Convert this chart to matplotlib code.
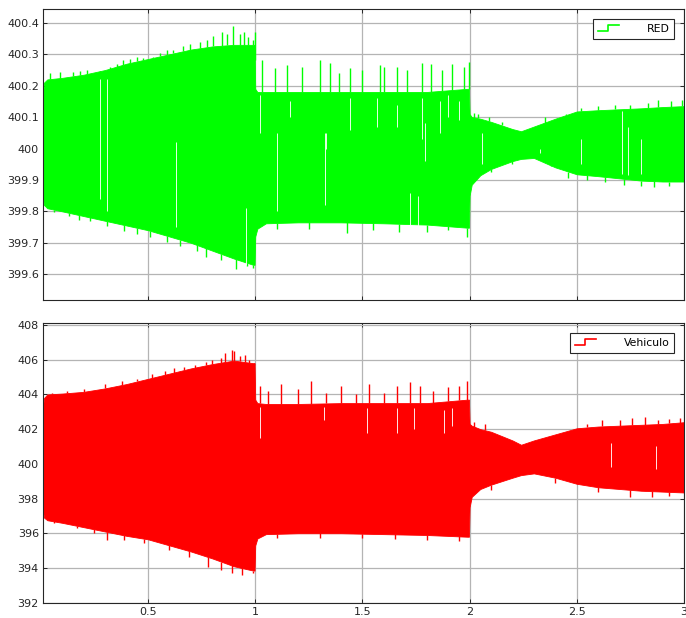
import matplotlib
matplotlib.use("Agg")
import matplotlib.pyplot as plt
import numpy as np
from matplotlib.lines import Line2D
from matplotlib.legend_handler import HandlerBase

# ---------------- data ----------------
t_env = [0.01, 0.015, 0.03, 0.1, 0.2, 0.3, 0.4, 0.5, 0.6, 0.7, 0.8, 0.9, 0.99, 0.997,
         1.0, 1.01, 1.05, 1.2, 1.4, 1.6, 1.8, 1.99, 1.997, 2.0, 2.01, 2.05, 2.1, 2.2,
         2.24, 2.3, 2.4, 2.5, 2.6, 2.7, 2.8, 2.9, 3.0]

red_up = [400.17, 400.21, 400.22, 400.225, 400.235, 400.25, 400.27, 400.285, 400.30,
          400.315, 400.325, 400.33, 400.33, 400.33, 400.19, 400.18, 400.18, 400.18,
          400.18, 400.18, 400.18, 400.19, 400.19, 400.11, 400.10, 400.095, 400.085,
          400.062, 400.055, 400.07, 400.095, 400.118, 400.122, 400.125, 400.128, 400.132, 400.135]
red_lo = [399.84, 399.82, 399.81, 399.80, 399.785, 399.77, 399.755, 399.74, 399.72,
          399.70, 399.675, 399.65, 399.63, 399.63, 399.72, 399.745, 399.762, 399.765,
          399.765, 399.762, 399.758, 399.748, 399.748, 399.85, 399.885, 399.915, 399.935,
          399.96, 399.967, 399.97, 399.94, 399.918, 399.912, 399.905, 399.898, 399.895, 399.895]

veh_up = [403.3, 403.8, 404.0, 404.05, 404.15, 404.35, 404.6, 404.9, 405.2, 405.5, 405.75,
          405.95, 405.8, 405.8, 403.7, 403.5, 403.45, 403.45, 403.5, 403.5, 403.5,
          403.7, 403.7, 402.3, 402.2, 402.0, 401.85, 401.35, 401.1, 401.35, 401.7, 402.05,
          402.15, 402.2, 402.25, 402.3, 402.4]
veh_lo = [397.3, 396.9, 396.75, 396.6, 396.35, 396.1, 395.85, 395.65, 395.3, 394.95, 394.55,
          394.1, 393.85, 393.85, 395.3, 395.7, 395.95, 396.0, 396.0, 395.95, 395.9, 395.8,
          395.8, 397.5, 398.1, 398.55, 398.8, 399.2, 399.35, 399.45, 399.2, 398.85,
          398.65, 398.55, 398.45, 398.4, 398.35]

# upward spikes above the dense band: (time, peak)
red_spk_t = [0.043, 0.09, 0.152, 0.183, 0.214, 0.276, 0.323, 0.354, 0.385, 0.416, 0.447,
             0.478, 0.525, 0.556, 0.587, 0.618, 0.664, 0.695, 0.742, 0.773, 0.804, 0.843,
             0.866, 0.897, 0.928, 0.947, 0.967, 0.99, 0.998,
             1.03, 1.09, 1.147, 1.217, 1.302, 1.35, 1.39, 1.44, 1.5, 1.58, 1.60, 1.66,
             1.71, 1.78, 1.82, 1.87, 1.92, 1.975, 1.995,
             2.02, 2.04, 2.09, 2.15, 2.35, 2.45, 2.52, 2.6, 2.68, 2.75, 2.83, 2.88, 2.94, 2.99]
red_spk_v = [400.241, 400.244, 400.244, 400.246, 400.25, 400.244, 400.26, 400.268, 400.281,
             400.284, 400.292, 400.287, 400.292, 400.303, 400.313, 400.315, 400.326, 400.334,
             400.34, 400.345, 400.358, 400.371, 400.366, 400.39, 400.364, 400.371, 400.355,
             400.345, 400.37,
             400.281, 400.255, 400.266, 400.258, 400.281, 400.271, 400.24, 400.255, 400.25,
             400.266, 400.26, 400.26, 400.25, 400.271, 400.27, 400.25, 400.27, 400.26, 400.275,
             400.112, 400.11, 400.1, 400.085, 400.1, 400.11, 400.13, 400.135, 400.14, 400.14,
             400.145, 400.155, 400.15, 400.155]
# downward teeth below the dense band
red_dn_t = [0.063, 0.13, 0.18, 0.23, 0.31, 0.39, 0.45, 0.51, 0.59, 0.65, 0.73, 0.77, 0.84,
            0.91, 0.96, 0.99, 1.1, 1.25, 1.426, 1.55, 1.67, 1.8, 1.9, 1.99,
            2.1, 2.2, 2.38, 2.46, 2.55, 2.63, 2.72, 2.8, 2.86, 2.93]
red_dn_v = [399.799, 399.785, 399.772, 399.77, 399.755, 399.738, 399.728, 399.72, 399.704,
            399.69, 399.675, 399.655, 399.645, 399.618, 399.625, 399.62, 399.745, 399.745,
            399.73, 399.74, 399.735, 399.735, 399.74, 399.72,
            399.925, 399.95, 399.945, 399.905, 399.9, 399.895, 399.885, 399.88, 399.878, 399.882]

veh_spk_t = [0.05, 0.12, 0.2, 0.3, 0.38, 0.45, 0.52, 0.58, 0.62, 0.67, 0.72, 0.77, 0.8,
             0.84, 0.86, 0.89, 0.9, 0.93, 0.95, 0.97, 0.995,
             1.02, 1.06, 1.12, 1.2, 1.26, 1.33, 1.4, 1.47, 1.53, 1.6, 1.66, 1.72,
             1.77, 1.83, 1.9, 1.95, 1.99, 2.02, 2.07, 2.55, 2.62, 2.7, 2.76, 2.82, 2.88, 2.93, 2.98]
veh_spk_v = [404.1, 404.2, 404.3, 404.6, 404.75, 404.9, 405.2, 405.35, 405.5, 405.6, 405.7,
             405.85, 406.0, 406.1, 406.4, 406.55, 406.5, 406.2, 406.3, 406.0, 405.7,
             404.5, 404.2, 404.6, 404.3, 404.8, 404.1, 404.5, 404.0, 404.6, 404.1,
             404.5, 404.7, 404.5, 404.2, 404.4, 404.5, 404.8, 402.4, 402.3, 402.3, 402.5,
             402.5, 402.62, 402.7, 402.55, 402.6, 402.62]
veh_dn_t = [0.06, 0.167, 0.25, 0.31, 0.39, 0.48, 0.6, 0.69, 0.78, 0.84, 0.89, 0.94, 0.99,
            1.1, 1.3, 1.5, 1.65, 1.8, 1.95, 2.1, 2.4, 2.6, 2.75, 2.85, 2.93]
veh_dn_v = [396.6, 396.28, 396.0, 395.6, 395.6, 395.42, 395.03, 394.65, 394.07, 393.9,
            393.69, 393.59, 393.7, 395.75, 395.7, 395.75, 395.65, 395.6, 395.55, 398.5,
            398.9, 398.4, 398.1, 398.1, 398.15]

# white gaps inside the dense band: (time, bottom, top)
red_gap_t = [0.276, 0.31, 0.63, 0.955, 1.02, 1.1, 1.16, 1.325, 1.33, 1.44, 1.57, 1.66,
             1.72, 1.76, 1.78, 1.79, 1.86, 1.9, 1.95, 2.06, 2.33, 2.52, 2.71, 2.74, 2.8]
red_gap_b = [399.84, 399.80, 399.75, 399.63, 400.05, 399.80, 400.1, 399.82, 400.0, 400.06,
             400.07, 400.07, 399.71, 399.72, 400.03, 399.96, 400.05, 400.1, 400.09,
             399.95, 399.985, 399.95, 399.92, 399.915, 399.92]
red_gap_a = [400.22, 400.22, 400.02, 399.81, 400.17, 400.05, 400.15, 400.05, 400.05, 400.16,
             400.16, 400.14, 399.86, 399.85, 400.16, 400.08, 400.15, 400.17, 400.15,
             400.05, 400.0, 400.03, 400.12, 400.07, 400.03]
veh_gap_t = [1.02, 1.32, 1.52, 1.66, 1.74, 1.88, 1.92, 2.66, 2.87]
veh_gap_b = [401.5, 402.5, 401.8, 401.8, 402.0, 401.8, 402.2, 399.8, 399.7]
veh_gap_a = [403.3, 403.3, 403.2, 403.2, 403.2, 403.1, 403.2, 401.2, 401.0]

x_ticks = [0.5, 1, 1.5, 2, 2.5, 3]
x_labels = ["0.5", "1", "1.5", "2", "2.5", "3"]
top_yticks = [399.6, 399.7, 399.8, 399.9, 400.0, 400.1, 400.2, 400.3, 400.4]
top_ylabels = ["399.6", "399.7", "399.8", "399.9", "400", "400.1", "400.2", "400.3", "400.4"]
bot_yticks = [392, 394, 396, 398, 400, 402, 404, 406, 408]
bot_ylabels = [str(v) for v in bot_yticks]

GREEN = "#00ff00"
RED = "#ff0000"


class StepHandler(HandlerBase):
    def create_artists(self, legend, orig_handle, xdescent, ydescent, width, height,
                       fontsize, trans):
        x0 = -xdescent
        y0 = -ydescent + height * 0.1
        y1 = -ydescent + height * 0.9
        xs = [x0, x0 + width * 0.45, x0 + width * 0.45, x0 + width]
        ys = [y0, y0, y1, y1]
        ln = Line2D(xs, ys, color=orig_handle.get_color(), lw=1.2)
        ln.set_transform(trans)
        return [ln]


fig = plt.figure(figsize=(6.86, 6.18), dpi=100)
ax1 = fig.add_axes([0.0627, 0.5146, 0.9343, 0.4708])
ax2 = fig.add_axes([0.0627, 0.0248, 0.9343, 0.4521])


def style(ax, yticks, ylabels, ylim):
    ax.set_xlim(0.01, 3.0)
    ax.set_ylim(*ylim)
    ax.set_xticks(x_ticks)
    ax.set_yticks(yticks)
    ax.set_yticklabels(ylabels)
    ax.grid(True, color="#b4b4b4", lw=0.9)
    ax.set_axisbelow(True)
    ax.tick_params(direction="in", top=True, right=True, length=3, width=0.7,
                   labelsize=8, colors="#262626", pad=3)
    for s in ax.spines.values():
        s.set_color("#262626")
        s.set_linewidth(0.8)


def draw(ax, up, lo, spk_t, spk_v, dn_t, dn_v, gap_t, gap_b, gap_a, color, label):
    ax.fill_between(t_env, lo, up, color=color, lw=0.6, edgecolor=color, zorder=2)
    base_up = np.interp(spk_t, t_env, up)
    ax.vlines(spk_t, base_up, spk_v, color=color, lw=1.0, zorder=2)
    base_lo = np.interp(dn_t, t_env, lo)
    ax.vlines(dn_t, dn_v, base_lo, color=color, lw=1.0, zorder=2)
    ax.vlines(gap_t, gap_b, gap_a, color="white", lw=0.7, alpha=0.9, zorder=3)
    h = Line2D([], [], color=color)
    ax.legend([h], [label], handler_map={Line2D: StepHandler()}, loc="upper right",
              bbox_to_anchor=(0.985, 0.965), fontsize=7.8, frameon=True, fancybox=False,
              edgecolor="#262626", framealpha=1, handlelength=2.0, handletextpad=2.5,
              borderpad=0.45, borderaxespad=0.0)
    ax.get_legend().get_frame().set_linewidth(0.8)


draw(ax1, red_up, red_lo, red_spk_t, red_spk_v, red_dn_t, red_dn_v,
     red_gap_t, red_gap_b, red_gap_a, GREEN, "RED")
draw(ax2, veh_up, veh_lo, veh_spk_t, veh_spk_v, veh_dn_t, veh_dn_v,
     veh_gap_t, veh_gap_b, veh_gap_a, RED, "Vehiculo")

style(ax1, top_yticks, top_ylabels, (399.518, 400.444))
style(ax2, bot_yticks, bot_ylabels, (392.0, 408.1))
ax1.set_xticklabels([])
ax2.set_xticklabels(x_labels)

fig.savefig("out.png", dpi=100)
